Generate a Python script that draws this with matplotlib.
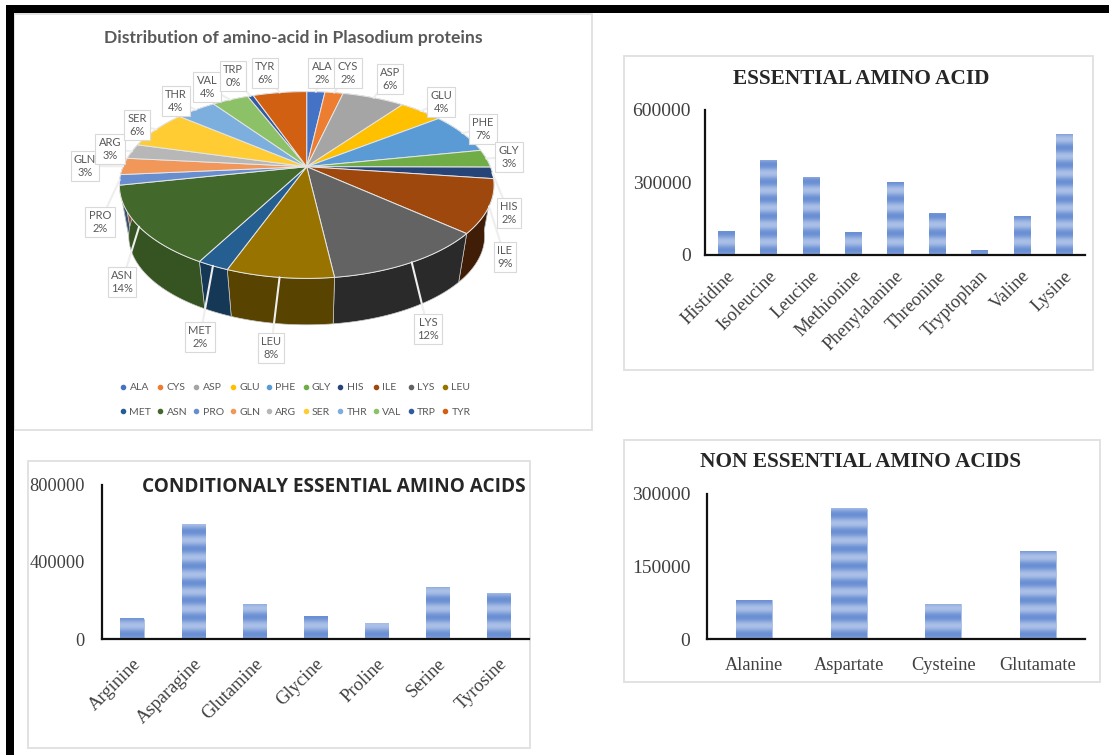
import numpy as np
import matplotlib
matplotlib.use("Agg")
import matplotlib.pyplot as plt
from matplotlib.colors import LinearSegmentedColormap, to_rgb
from matplotlib.lines import Line2D
from matplotlib.patches import Polygon, Rectangle

# ---------- data ----------
essential_names = ["Histidine", "Isoleucine", "Leucine", "Methionine", "Phenylalanine",
                   "Threonine", "Tryptophan", "Valine", "Lysine"]
essential_vals = [99000, 393000, 322000, 95000, 298000, 170000, 20000, 158000, 497000]

conditional_names = ["Arginine", "Asparagine", "Glutamine", "Glycine", "Proline", "Serine", "Tyrosine"]
conditional_vals = [104000, 597000, 180000, 115000, 83000, 265000, 234000]

nonessential_names = ["Alanine", "Aspartate", "Cysteine", "Glutamate"]
nonessential_vals = [80000, 269000, 72000, 182000]

pie_codes = ["ALA", "CYS", "ASP", "GLU", "PHE", "GLY", "HIS", "ILE", "LYS", "LEU",
             "MET", "ASN", "PRO", "GLN", "ARG", "SER", "THR", "VAL", "TRP", "TYR"]
pie_vals = [1.9, 1.9, 6.5, 4.5, 7.2, 3.1, 2.0, 9.2, 11.8, 7.7,
            2.3, 13.8, 1.8, 2.9, 2.6, 6.7, 4.2, 3.8, 0.6, 5.6]
pie_pct = ["2%", "2%", "6%", "4%", "7%", "3%", "2%", "9%", "12%", "8%",
           "2%", "14%", "2%", "3%", "3%", "6%", "4%", "4%", "0%", "6%"]
pie_colors = ["#4472C4", "#ED7D31", "#A5A5A5", "#FFC000", "#5B9BD5", "#70AD47", "#264478",
              "#9E480E", "#636363", "#997300", "#255E91", "#43682B", "#698ED0", "#F1975A",
              "#B7B7B7", "#FFCD33", "#7CAFDD", "#8CC168", "#335AA1", "#D26012"]
wall_shade = {"ILE": 0.4, "LYS": 0.42, "LEU": 0.58, "MET": 0.6, "ASN": 0.8}

# ---------- layout (pixels) ----------
W, H = 1109, 755
label_pos = [(322, 73), (348, 73), (390, 79), (441, 102), (483, 129), (509, 157), (509, 213),
             (505, 257), (428, 329), (271, 348), (200, 337), (122, 282), (100, 222), (85, 166),
             (110, 149), (137, 125), (176, 101), (207, 87), (233, 76), (265, 73)]
SERIF = "Liberation Serif"
SANS = "Lato"
GREY = "#595959"
TICK = "#404040"

fig = plt.figure(figsize=(W / 100, H / 100), dpi=100, facecolor="white")
bg = fig.add_axes([0, 0, 1, 1])
bg.set_xlim(0, W)
bg.set_ylim(H, 0)
bg.axis("off")

# frame and panels
bg.add_patch(Rectangle((6, 5), W - 6, 8, fc="black", ec="none", zorder=6))
bg.add_patch(Rectangle((6, 5), 8, H - 5, fc="black", ec="none", zorder=6))
for (x0, y0, x1, y1) in [(14, 13.5, 591.5, 430), (624, 55.5, 1093, 370),
                         (28, 461, 530, 748), (624, 440, 1100, 682)]:
    bg.add_patch(Rectangle((x0, y0), x1 - x0, y1 - y0, fc="white", ec="#e2e2e2", lw=1.4, zorder=1))

# ---------- 3-D pie ----------
CX, CY = 306.7, 166.7
A0, B0, K = 183.7, 89.8, 0.196
SHRINK, DROP = 0.95, 52


def top_ring(t):
    px, py = np.sin(t), np.cos(t)
    w = 1 + K * py
    return CX + A0 * px / w, CY - B0 * py / w


def low_ring(t):
    x, y = top_ring(t)
    return CX + (x - CX) * SHRINK, CY + (y - CY) * SHRINK + DROP


vals = np.array(pie_vals, dtype=float)
edges = np.concatenate([[0], np.cumsum(vals)]) / vals.sum() * 2 * np.pi

for i, c in enumerate(pie_colors):
    t = np.linspace(edges[i], edges[i + 1], 40)
    xt, yt = top_ring(t)
    xb, yb = low_ring(t)
    shade = wall_shade.get(pie_codes[i], 0.55)
    dark = tuple(v * shade for v in to_rgb(c))
    bg.add_patch(Polygon(np.r_[np.c_[xt, yt], np.c_[xb, yb][::-1]], closed=True, fc=dark,
                         ec="#c8c8c8", lw=0.5, zorder=2))
for i, c in enumerate(pie_colors):
    t = np.linspace(edges[i], edges[i + 1], 40)
    xt, yt = top_ring(t)
    bg.add_patch(Polygon(np.r_[[[CX, CY]], np.c_[xt, yt]], closed=True, fc=c,
                         ec="#e6e6e6", lw=0.7, zorder=3))

# data labels with leader lines
for i, code in enumerate(pie_codes):
    mid = (edges[i] + edges[i + 1]) / 2
    rx, ry = top_ring(mid)
    lx, ly = label_pos[i]
    bg.plot([rx, lx], [ry, ly], color="#eeeeee", lw=1.5, zorder=4, solid_capstyle="round")
    bg.text(lx, ly, f"{code}\n{pie_pct[i]}", ha="center", va="center", family=SANS, fontsize=8,
            color=GREY, linespacing=1.25, zorder=5,
            bbox=dict(boxstyle="square,pad=0.3", fc="white", ec="#d9d9d9", lw=0.8))

bg.text(293, 37.5, "Distribution of amino-acid in Plasodium proteins", ha="center", va="center",
        family=SANS, weight="bold", fontsize=12.6, color=GREY, zorder=5)

handles = []
for a, b in zip(range(0, 10), range(10, 20)):
    for j in (a, b):
        handles.append(Line2D([], [], ls="none", marker="o", ms=3, color=pie_colors[j], label=pie_codes[j]))
leg = bg.legend(handles=handles, ncol=10, frameon=False, loc="center",
                bbox_to_anchor=(296 / W, 1 - 400 / H), prop=dict(family=SANS, size=7.5),
                labelcolor=GREY, handlelength=0.3, handletextpad=0.45, columnspacing=0.72,
                labelspacing=1.5, borderpad=0)
leg.set_zorder(5)

# ---------- bar charts ----------
band = LinearSegmentedColormap.from_list("band", ["#6A8FD3", "#ABC0E7"])
PERIOD, PEAK = 17.0, 13.0


def bar_panel(box, names, values, ymax, ticks, size_y, size_x, rotate, pad_y, pad_x):
    x0, y0, x1, y1 = box
    ax = fig.add_axes([x0 / W, 1 - y1 / H, (x1 - x0) / W, (y1 - y0) / H], zorder=3)
    ax.patch.set_alpha(0)
    pos = np.arange(len(names))
    bars = ax.bar(pos, values, width=0.38, color="#6F94D6", edgecolor="#A9BFE8", lw=0.5, zorder=2)
    px_per_val = (y1 - y0) / ymax
    for b in bars:
        rows = max(int(b.get_height() * px_per_val), 2)
        offs = (np.arange(rows) + 0.5)  # pixels above baseline, bottom row first
        pat = 0.5 + 0.5 * np.cos(2 * np.pi * (offs - PEAK) / PERIOD)
        ax.imshow(pat[:, None], origin="lower", aspect="auto", cmap=band, vmin=0, vmax=1,
                  extent=[b.get_x(), b.get_x() + b.get_width(), 0, b.get_height()],
                  interpolation="bilinear", zorder=3)
    ax.set_xlim(-0.5, len(names) - 0.5)
    ax.set_ylim(0, ymax)
    for s in ("top", "right"):
        ax.spines[s].set_visible(False)
    for s in ("left", "bottom"):
        ax.spines[s].set_linewidth(1.6)
        ax.spines[s].set_color("#111111")
        ax.spines[s].set_zorder(5)
    ax.set_yticks(ticks)
    ax.set_yticklabels([str(t) for t in ticks], family=SERIF, fontsize=size_y, color=TICK)
    ax.set_xticks(pos)
    if rotate:
        ax.set_xticklabels(names, family=SERIF, fontsize=size_x, color=TICK, rotation=45,
                           ha="right", va="top", rotation_mode="anchor")
    else:
        ax.set_xticklabels(names, family=SERIF, fontsize=size_x, color=TICK)
    ax.tick_params(length=0, axis="y", pad=pad_y)
    ax.tick_params(length=0, axis="x", pad=pad_x)
    return ax


bar_panel((705, 110, 1085, 255), essential_names, essential_vals, 600000, [0, 300000, 600000],
          14, 13.3, True, 10, 9)
bar_panel((101.5, 485, 529, 639), conditional_names, conditional_vals, 800000, [0, 400000, 800000],
          13.2, 13.3, True, 12, 12)
bar_panel((707, 494, 1085, 639), nonessential_names, nonessential_vals, 300000, [0, 150000, 300000],
          14, 13.2, False, 12, 13)

bg.text(861.5, 79, "ESSENTIAL AMINO ACID", ha="center", va="center", family=SERIF, weight="bold",
        fontsize=15.3, color="#262626", zorder=5)
bg.text(861, 462, "NON ESSENTIAL AMINO ACIDS", ha="center", va="center", family=SERIF, weight="bold",
        fontsize=15.3, color="#262626", zorder=5)
bg.text(333.5, 487, "CONDITIONALY ESSENTIAL AMINO ACIDS", ha="center", va="center", family="Open Sans",
        weight="bold", fontsize=13.7, color="#262626", zorder=5)

fig.savefig("out.png", dpi=100, facecolor="white")
